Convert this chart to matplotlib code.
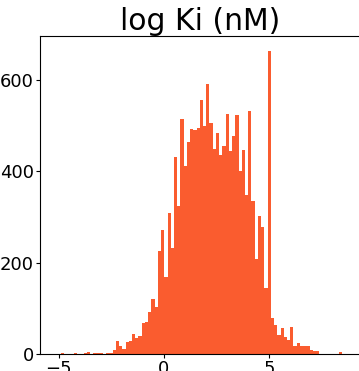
import numpy as np
import matplotlib
matplotlib.use('Agg')
import matplotlib.pyplot as plt

# histogram of log Ki (nM): 90 equal bins between bin_lo and bin_hi, counts
bin_lo, bin_hi, n_bins = -5.208, 8.616, 90
counts = [1, 0, 2, 0, 0, 1, 2, 0, 1, 2,
          4, 1, 2, 2, 2, 1, 2, 2, 9, 29,
          18, 11, 26, 29, 44, 35, 40, 68, 70, 92,
          121, 103, 226, 272, 169, 308, 231, 431, 325, 514,
          411, 464, 492, 490, 494, 556, 499, 591, 505, 449,
          484, 435, 455, 525, 444, 477, 523, 400, 446, 349,
          532, 334, 209, 301, 279, 145, 664, 79, 64, 42,
          57, 37, 31, 59, 18, 24, 18, 18, 18, 9,
          7, 7, 1, 1, 0, 1, 1, 0, 4, 1]
x_ticks = [-5, 0, 5]
y_ticks = [0, 200, 400, 600]
title = 'log Ki (nM)'

edges = np.linspace(bin_lo, bin_hi, n_bins + 1)
fig = plt.figure(figsize=(3.59, 3.71), dpi=100)
ax = fig.add_axes([40 / 359, 17 / 371, 319.6 / 359, 318.5 / 371])
ax.hist(edges[:-1], bins=edges, weights=counts, color='#fa5c2f')
ax.set_xticks(x_ticks); ax.set_yticks(y_ticks)
ax.tick_params(labelsize=13, length=3, pad=1.5)
ax.set_title(title, fontsize=21.5, pad=4)
fig.savefig('out.png', dpi=100)
